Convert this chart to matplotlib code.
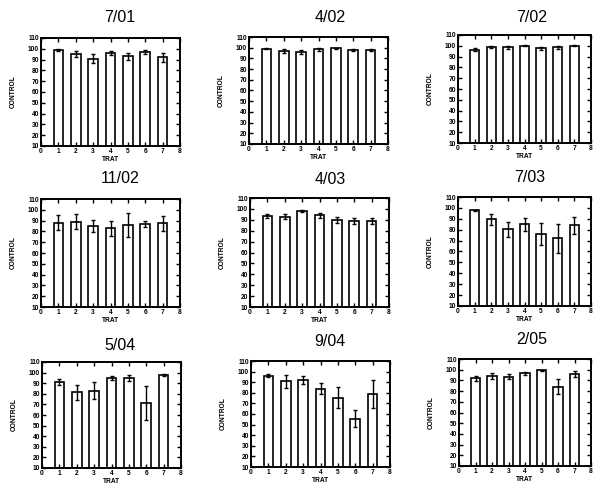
import matplotlib.pyplot as plt

plt.rcParams['font.family'] = ['Liberation Sans', 'DejaVu Sans']

# data: mean and error per treatment (1..7)
trat = [1, 2, 3, 4, 5, 6, 7]

dates = ['7/01', '4/02', '7/02', '11/02', '4/03', '7/03', '5/04', '9/04', '2/05']

means = [
    [99, 95, 91, 96, 93, 97, 92],
    [99, 97, 96, 98.5, 99.5, 97.5, 97.5],
    [96.5, 99, 98.5, 100, 97.5, 98.5, 100],
    [88, 89, 85, 83, 86, 87, 87.5],
    [93.5, 93, 98, 94, 90, 89, 89],
    [98, 89.5, 80.5, 85, 76, 72, 84],
    [91, 81.5, 83, 95, 95, 71, 98],
    [96, 91, 92, 84, 75.5, 55.5, 79],
    [92, 94, 93.5, 96.5, 99.5, 84, 96],
]

errs = [
    [1, 3, 4, 2, 3, 1.5, 4],
    [0.5, 2, 2, 1.5, 0.5, 1, 1],
    [1.5, 1, 1.5, 0.5, 1.5, 1.5, 0.5],
    [7, 7, 6, 7, 11, 3, 7],
    [2, 2, 1, 2.5, 2.5, 2.5, 2.5],
    [0.5, 5, 7, 6, 10, 13, 8],
    [3, 7, 8, 2, 2.5, 16, 1],
    [1.5, 6, 4, 5, 10, 8, 13],
    [2.5, 2.5, 2.5, 1.5, 0.5, 7, 3],
]

W, H = 595, 484
fig = plt.figure(figsize=(W / 100, H / 100), dpi=100)

# panel boxes in pixels: left, top, right, bottom
boxes = [
    (41, 38, 180, 146), (249, 37, 388, 144), (458, 35, 591, 143),
    (41, 199, 180, 307), (250, 198, 389, 307), (458, 197, 591, 306),
    (42, 362, 181, 468), (251, 361, 390, 467), (459, 359, 591, 466),
]
title_y = [18, 18, 17, 179, 180, 178, 345, 342, 340]
title_x = [120, 330, 532, 120, 330, 530, 120, 330, 532]

for i, date in enumerate(dates):
    l, t, r, b = boxes[i]
    ax = fig.add_axes([l / W, 1 - b / H, (r - l) / W, (b - t) / H])
    heights = [m - 10 for m in means[i]]
    ax.bar(trat, heights, bottom=10, width=0.56, color='white',
           edgecolor='black', linewidth=1.2)
    ax.errorbar(trat, means[i], yerr=errs[i], fmt='none', ecolor='black',
                elinewidth=1, capsize=1.5, capthick=1)
    ax.set_xlim(0, 8)
    ax.set_ylim(10, 110)
    ax.set_xticks(range(0, 9))
    ax.set_yticks(range(10, 111, 10))
    ax.tick_params(direction='in', length=3, width=1, top=True, right=True,
                   labelsize=4.8, pad=1.5)
    for lab in ax.get_xticklabels() + ax.get_yticklabels():
        lab.set_fontweight('bold')
    for sp in ax.spines.values():
        sp.set_linewidth(1.4)
    ax.set_xlabel('TRAT', fontsize=4.8, fontweight='bold', labelpad=0.5)
    ax.set_ylabel('CONTROL', fontsize=4.8, fontweight='bold', labelpad=8)
    fig.text(title_x[i] / W, 1 - title_y[i] / H, date,
             ha='center', va='center', fontsize=11.5)

fig.savefig('out.png', dpi=100)
